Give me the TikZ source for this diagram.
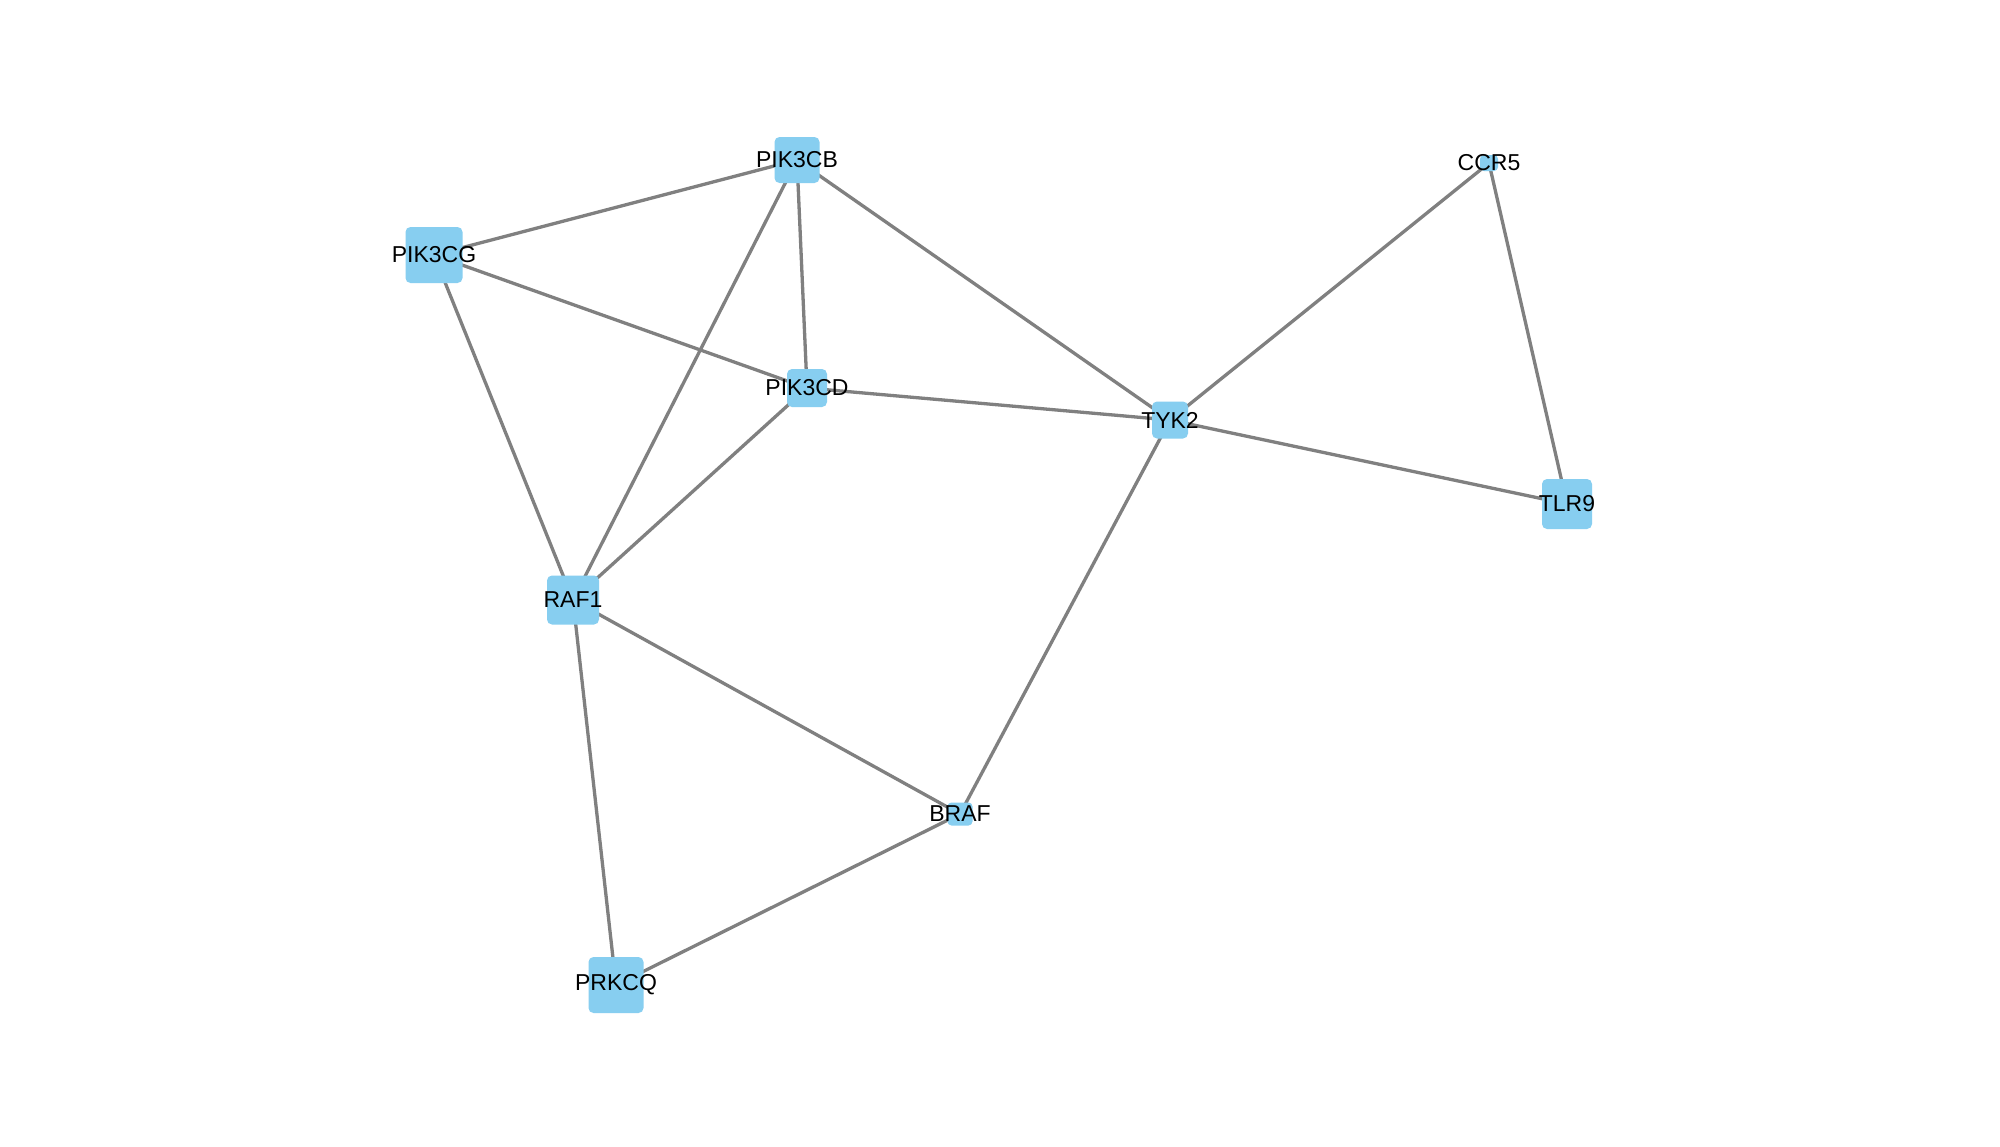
\documentclass[tikz,border=0pt]{standalone}
\usepackage{fontspec}
\setmainfont{Liberation Sans}
\definecolor{nodeblue}{RGB}{135,206,240}
\definecolor{edgegray}{RGB}{128,128,128}
\begin{document}
\begin{tikzpicture}[x=1pt,y=-1pt,
  box/.style={fill=nodeblue,draw=none,rounded corners=5pt,inner sep=0pt},
  lbl/.style={inner sep=0pt,font=\fontsize{23}{26}\selectfont,text=black},
  edge/.style={draw=edgegray,line width=3.3pt}]
\useasboundingbox[fill=white] (0,0) rectangle (2000,1146);
\path
  (797,160) coordinate (cPIK3CB)
  (434,255) coordinate (cPIK3CG)
  (807,388) coordinate (cPIK3CD)
  (1170,420) coordinate (cTYK2)
  (1489,163) coordinate (cCCR5)
  (1567,504) coordinate (cTLR9)
  (573,600) coordinate (cRAF1)
  (960,814) coordinate (cBRAF)
  (616,985) coordinate (cPRKCQ);
% edges
\draw[edge] (cPIK3CB) -- (cPIK3CG);
\draw[edge] (cPIK3CB) -- (cRAF1);
\draw[edge] (cPIK3CB) -- (cPIK3CD);
\draw[edge] (cPIK3CB) -- (cTYK2);
\draw[edge] (cPIK3CG) -- (cPIK3CD);
\draw[edge] (cPIK3CG) -- (cRAF1);
\draw[edge] (cPIK3CD) -- (cTYK2);
\draw[edge] (cPIK3CD) -- (cRAF1);
\draw[edge] (cTYK2) -- (cCCR5);
\draw[edge] (cTYK2) -- (cTLR9);
\draw[edge] (cTYK2) -- (cBRAF);
\draw[edge] (cCCR5) -- (cTLR9);
\draw[edge] (cRAF1) -- (cBRAF);
\draw[edge] (cRAF1) -- (cPRKCQ);
\draw[edge] (cBRAF) -- (cPRKCQ);
% boxes
\node[box,minimum width=45pt,minimum height=46pt] (PIK3CB) at (cPIK3CB) {};
\node[box,minimum width=57pt,minimum height=56pt] (PIK3CG) at (cPIK3CG) {};
\node[box,minimum width=40pt,minimum height=38pt] (PIK3CD) at (cPIK3CD) {};
\node[box,minimum width=36pt,minimum height=37pt] (TYK2) at (cTYK2) {};
\node[box,minimum width=18pt,minimum height=16pt,rounded corners=4pt] (CCR5) at (cCCR5) {};
\node[box,minimum width=50pt,minimum height=50pt] (TLR9) at (cTLR9) {};
\node[box,minimum width=52pt,minimum height=49pt] (RAF1) at (cRAF1) {};
\node[box,minimum width=25pt,minimum height=23pt,rounded corners=4pt] (BRAF) at (cBRAF) {};
\node[box,minimum width=55pt,minimum height=56pt] (PRKCQ) at (cPRKCQ) {};
% labels
\node[lbl] (tPIK3CB) at (PIK3CB) {PIK3CB};
\node[lbl] (tPIK3CG) at (PIK3CG) {PIK3CG};
\node[lbl] (tPIK3CD) at (PIK3CD) {PIK3CD};
\node[lbl] (tTYK2) at (TYK2) {TYK2};
\node[lbl] (tCCR5) at (CCR5) {CCR5};
\node[lbl] (tTLR9) at (TLR9) {TLR9};
\node[lbl] (tRAF1) at (RAF1) {RAF1};
\node[lbl] (tBRAF) at (BRAF) {BRAF};
\node[lbl] (tPRKCQ) at (PRKCQ) {PRKCQ};
\end{tikzpicture}
\end{document}
